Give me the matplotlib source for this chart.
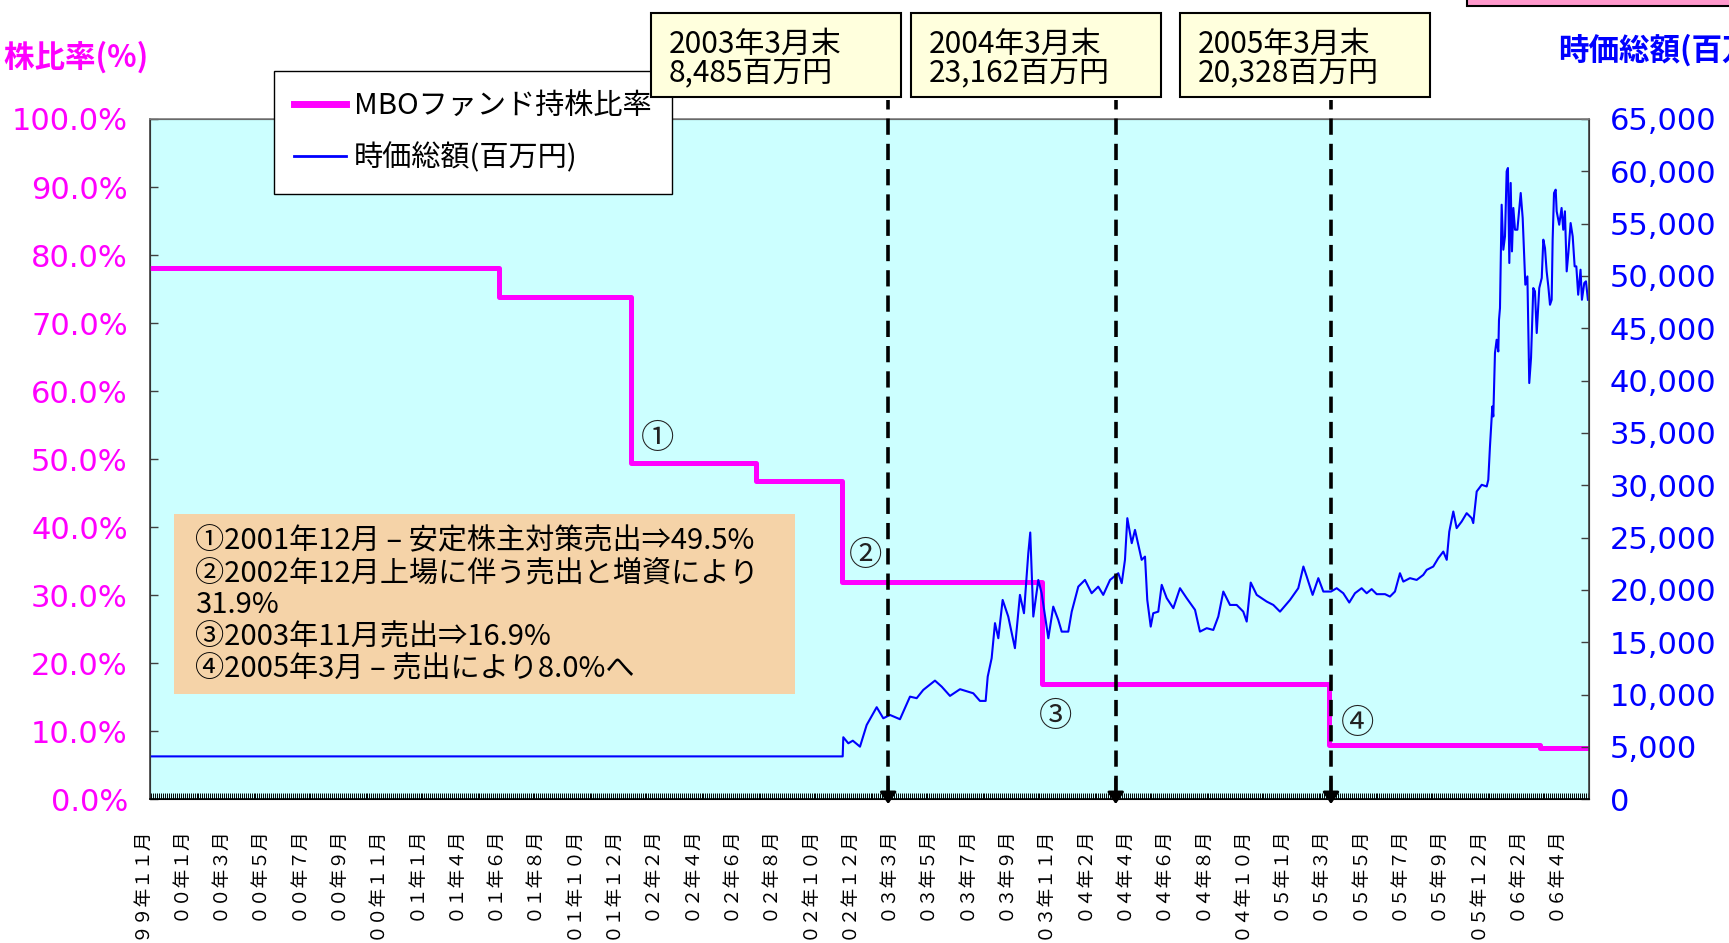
# MBO fund holding ratio vs. market cap chart (step line + daily market cap)

import numpy as np
import matplotlib
matplotlib.use("Agg")
import matplotlib.pyplot as plt
from matplotlib.patches import Rectangle
from matplotlib.lines import Line2D
from matplotlib.transforms import blended_transform_factory

plt.rcParams["font.family"] = ["Noto Sans CJK JP", "DejaVu Sans"]

W, H = 1729, 943
NUM_FONT = ["DejaVu Sans"]

# x axis: one label every 40 trading days
month_labels = [
    "９９年１１月", "００年１月", "００年３月", "００年５月", "００年７月", "００年９月",
    "００年１１月", "０１年１月", "０１年４月", "０１年６月", "０１年８月", "０１年１０月",
    "０１年１２月", "０２年２月", "０２年４月", "０２年６月", "０２年８月", "０２年１０月",
    "０２年１２月", "０３年３月", "０３年５月", "０３年７月", "０３年９月", "０３年１１月",
    "０４年２月", "０４年４月", "０４年６月", "０４年８月", "０４年１０月", "０５年１月",
    "０５年３月", "０５年５月", "０５年７月", "０５年９月", "０５年１２月", "０６年２月",
    "０６年４月",
]

# MBO fund holding ratio (%), step changes (trading-day index)
pink_days = [9, 364, 498, 625, 713, 917, 1209, 1423, 1473]
pink_pct = [78.1, 73.9, 49.5, 46.8, 31.9, 16.9, 8.0, 7.6, 7.6]

# market cap (million yen)
blue_days = [
    9, 713.7, 714.3, 719.4, 724, 731.3, 738.1, 748.3, 755, 761.8, 772, 782.2, 789,
    795.7, 807.6, 814.5, 822.9, 833.1, 846.6, 853.4, 859.2, 861.3, 865.3, 868.7,
    872.1, 876.5, 882.2, 889, 894.1, 898.2, 902.6, 904.6, 907.7, 912.8, 916.2, 923,
    928, 933.1, 936.6, 943.3, 946.8, 953.5, 960.3, 967.1, 973.8, 978.9, 985.8,
    994.2, 997.7, 1001, 1003.4, 1007.9, 1011.2, 1018, 1021.4, 1023.7, 1027.2,
    1029.8, 1034.9, 1038.4, 1043.5, 1050.2, 1057, 1063.8, 1072.3, 1077.3, 1084.2,
    1090.9, 1096, 1101.1, 1107.9, 1114.7, 1121.4, 1124.9, 1129, 1135.1, 1145.3,
    1152, 1158.8, 1169, 1177.4, 1182.6, 1186, 1192, 1197.8, 1202.9, 1210.7,
    1216.5, 1223.2, 1229.3, 1235.1, 1241.9, 1247, 1252.1, 1257.2, 1265.7, 1270.7,
    1275.8, 1280.9, 1284.3, 1291.1, 1297.9, 1304.6, 1308.1, 1314.8, 1319.9, 1325,
    1328.5, 1331.1, 1335.2, 1338.6, 1343.7, 1348.8, 1353.9, 1355.5, 1359, 1364.1,
    1369.2, 1370.8, 1372.5, 1374.9, 1375.9, 1377.6, 1379.3, 1381, 1381.7, 1382.7,
    1384.4, 1386.1, 1387.8, 1389.5, 1390.8, 1392.2, 1393.6, 1394.9, 1396.3, 1398,
    1400.4, 1403.8, 1405.8, 1408.5, 1410.6, 1412.5, 1414.3, 1416.6, 1418.3,
    1420.1, 1422.7, 1425.2, 1426.8, 1428.5, 1430.2, 1431.9, 1433.6, 1435.3,
    1436.3, 1437.7, 1439.4, 1440.4, 1443, 1445.4, 1447.1, 1448.8, 1450.6, 1452.3,
    1454.6, 1456.7, 1458.7, 1460.4, 1462.3, 1464.7, 1466.1, 1468.5, 1470.2, 1472.2,
]
blue_value = [
    4100, 4100, 5930, 5350, 5600, 5030, 7100, 8800, 7740, 8060, 7650, 9810, 9660,
    10450, 11340, 10760, 9880, 10520, 10130, 9400, 9400, 11720, 13480, 16830,
    15390, 19050, 17460, 14440, 19530, 17780, 23520, 25490, 17460, 20960, 19690, 15390,
    18410, 17140, 16020, 16020, 17930, 20320, 20960, 19690, 20320, 19530, 20960,
    21600, 20650, 22880, 26860, 24470, 25740, 22880, 23190, 19050, 16500,
    17780, 17930, 20490, 19220, 18260, 20170, 19220, 18100, 16020, 16350,
    16180, 17460, 19850, 18570, 18570, 17930, 16980, 20710, 19530, 18890,
    18570, 17930, 19050, 20170, 22240, 21280, 19530, 21130, 19850, 19850,
    20170, 19690, 18800, 19690, 20170, 19690, 20080, 19600, 19600, 19370,
    19850, 21600, 20800, 21130, 20960, 21440, 21920, 22240, 23040, 23670,
    22880, 25580, 27500, 25910, 26540, 27340, 26860, 26390, 29410, 30050,
    29890, 30530, 33710, 37530, 36580, 42640, 43910, 42790, 45820, 46940,
    56810, 52510, 53790, 60000, 60320, 51240, 58890, 52350, 56500, 54420,
    54420, 57930, 55540, 49170, 49960, 39770, 42160, 48850, 48530,
    44550, 48850, 49810, 53470, 52670, 50440, 49010, 47250, 47730,
    53470, 57930, 58250, 56180, 54900, 56500, 54420, 56180, 50440, 52190,
    55060, 53790, 50920, 50920, 48210, 50600, 47730, 49330, 49490, 47730,
]

# dated callouts: day index, text
event_days = [760, 991.6, 1210.7]
event_text = [
    ["2003年3月末", "8,485百万円"],
    ["2004年3月末", "23,162百万円"],
    ["2005年3月末", "20,328百万円"],
]

circle_marks = [("①", 525.6, 53.1), ("②", 737.4, 35.9), ("③", 930.8, 12.1), ("④", 1238.2, 11.1)]

note_lines = [
    "①2001年12月 – 安定株主対策売出⇒49.5%",
    "②2002年12月上場に伴う売出と増資により",
    "31.9%",
    "③2003年11月売出⇒16.9%",
    "④2005年3月 – 売出により8.0%へ",
]

PINK = "#FF00FF"
BLUE = "#0000FF"


def fx(x):
    return x / W


def fy(y):
    return 1 - y / H


fig = plt.figure(figsize=(W / 100, H / 100), dpi=100)
fig.patch.set_facecolor("white")

ax_left, ax_right, ax_top, ax_bottom = 150, 1588.7, 119, 799.3
ax = fig.add_axes([fx(ax_left), fy(ax_bottom), (ax_right - ax_left) / W, (ax_bottom - ax_top) / H])
ax.set_facecolor("#CCFFFF")
ax2 = ax.twinx()

ax.step(pink_days, pink_pct, where="post", color=PINK, lw=3.6, zorder=3)
ax2.plot(blue_days, blue_value, color=BLUE, lw=1.5, zorder=2)

ax.set_xlim(8.65, 1473)
ax.set_ylim(0, 100)
ax2.set_ylim(0, 65000)

# left axis
ax.set_yticks(np.arange(0, 101, 10))
ax.set_yticklabels([f"{v:.1f}%" for v in np.arange(0, 101, 10)], family=NUM_FONT)
ax.tick_params(axis="y", direction="in", length=6, width=1, colors="#404040",
               labelcolor=PINK, labelsize=22, pad=16)

# right axis
ax2.set_yticks(np.arange(0, 65001, 5000))
ax2.set_yticklabels([f"{v:,}" for v in np.arange(0, 65001, 5000)], family=NUM_FONT)
ax2.tick_params(axis="y", direction="in", length=6, width=1, colors="#404040",
                labelcolor=BLUE, labelsize=22, pad=15)

# bottom: dense daily tick band, labels as rotated text
ax.set_xticks([])
ax.set_xticks(np.arange(10, 1473, 2), minor=True)
ax.tick_params(axis="x", which="minor", direction="in", length=4.5, width=0.7, color="black")
xtrans = blended_transform_factory(ax.transData, ax.transAxes)
for i, lab in enumerate(month_labels):
    ax.text(40 * i - 2, -0.040, lab, transform=xtrans, rotation=90, ha="center", va="top",
            fontsize=13.5, color="black", clip_on=False)

for side in ["left", "right"]:
    ax2.spines[side].set_color("#404040")
ax2.spines["top"].set_color("#808080")
ax2.spines["bottom"].set_color("black")
for sp in ax2.spines.values():
    sp.set_linewidth(1.2)

# dashed event lines with arrows
etrans = blended_transform_factory(ax2.transData, ax2.transAxes)
for d in event_days:
    ax2.plot([d, d], [0.01, 1.028], transform=etrans, color="black", lw=2.6,
             linestyle=(0, (4.5, 2.5)), clip_on=False, zorder=5)
    ax2.annotate("", xy=(d, -0.007), xycoords=etrans, xytext=(d, 0.03), textcoords=etrans,
                 arrowprops=dict(arrowstyle="-|>,head_length=0.5,head_width=0.35",
                                 color="black", lw=2, shrinkA=0, shrinkB=0, mutation_scale=14),
                 zorder=5)

# callout boxes above the plot
box_lefts = [650.6, 910.8, 1179.9]
box_w = 250
for left, (l1, l2) in zip(box_lefts, event_text):
    fig.patches.append(Rectangle((fx(left), fy(97)), box_w / W, 84 / H, transform=fig.transFigure,
                                 facecolor="#FFFFDD", edgecolor="black", lw=1.5, zorder=2))
    fig.text(fx(left + 18), fy(44), l1, fontsize=21.5, ha="left", va="center", zorder=3)
    fig.text(fx(left + 18), fy(73), l2, fontsize=21.5, ha="left", va="center", zorder=3)

# partial pink box at the top-right corner
fig.patches.append(Rectangle((fx(1467), fy(6)), 300 / W, 30 / H, transform=fig.transFigure,
                             facecolor="#FF99CC", edgecolor="black", lw=1.5, zorder=2))

# circled numbers
for mark, d, pct in circle_marks:
    ax.text(d, pct, mark, fontsize=24, ha="center", va="center", color="#222222", zorder=4)

# note box
note_box = Rectangle(((174 - ax_left) / (ax_right - ax_left), (ax_bottom - 694) / (ax_bottom - ax_top)),
                     (795 - 174) / (ax_right - ax_left), 180 / (ax_bottom - ax_top),
                     transform=ax2.transAxes, facecolor="#F5D3A8", edgecolor="none", zorder=6)
ax2.add_patch(note_box)
for k, line in enumerate(note_lines):
    ax2.text((195 - ax_left) / (ax_right - ax_left), (ax_bottom - (541 + 32 * k)) / (ax_bottom - ax_top),
             line, transform=ax2.transAxes, fontsize=21, ha="left", va="center", zorder=7)

# axis titles (partly cut off by the figure edge)
fig.text(fx(149), fy(57), "持ち株比率(%)", color=PINK, fontsize=22, fontweight="bold",
         ha="right", va="center")
fig.text(fx(1558), fy(50), "時価総額(百万円)", color=BLUE, fontsize=22, fontweight="bold",
         ha="left", va="center")

# legend
handles = [Line2D([], [], color=PINK, lw=5), Line2D([], [], color=BLUE, lw=2)]
labels = ["MBOファンド持株比率", "時価総額(百万円)"]
leg = ax2.legend(handles, labels, loc="upper left", bbox_to_anchor=(fx(273.5), fy(70.6)),
                 bbox_transform=fig.transFigure, fontsize=21, frameon=True, fancybox=False,
                 edgecolor="black", framealpha=1, borderpad=0.7, handlelength=1.8,
                 handletextpad=0.25, labelspacing=0.75, borderaxespad=0)
leg.get_frame().set_linewidth(1.0)
leg.set_zorder(10)

fig.savefig("out.png", dpi=100)
plt.close(fig)
